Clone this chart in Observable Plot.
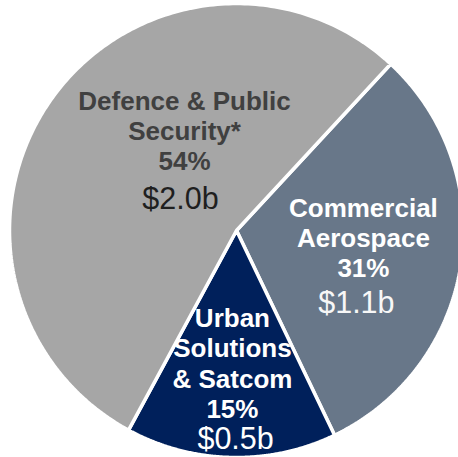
<!DOCTYPE html>
<html>
<head>
<meta charset="utf-8">
<script src="https://cdn.jsdelivr.net/npm/d3@7"></script>
<script src="https://cdn.jsdelivr.net/npm/@observablehq/plot@0.6"></script>
<style>
  html, body { margin: 0; padding: 0; background: #fff; overflow: hidden; }
  #chart svg { display: block; overflow: hidden; }
</style>
</head>
<body>
<div id="chart"></div>
<script>
// ---- data ----
const segments = ["Commercial\nAerospace", "Urban\nSolutions\n& Satcom", "Defence & Public\nSecurity*"];
const shares = [31, 15, 54];
const revenue = ["$1.1b", "$0.5b", "$2.0b"];

// ---- layout / style (not data) ----
const colors = ["#687789", "#00205B", "#A6A6A6"];
const labelColors = ["#ffffff", "#ffffff", "#404040"];
const valueColors = ["#f7f7f7", "#ffffff", "#1f1f1f"];
const startAngleDeg = 42.8;            // first slice boundary, clockwise from 12 o'clock
const labelPos = [[0.559, -0.031], [-0.018, -0.583], [-0.229, 0.4405]]; // unit-circle coords of title block
const valuePos = [[0.528, -0.322], [-0.004, -0.921], [-0.247, 0.137]];

const W = 458, H = 457, cx = 236, cy = 230, R = 227;

// slice polygons from d3.pie angles
const pie = d3.pie().sort(null).value(d => d).startAngle(startAngleDeg * Math.PI / 180).endAngle(startAngleDeg * Math.PI / 180 + 2 * Math.PI);
const arcs = pie(shares);
const poly = [];
arcs.forEach((a, i) => {
  poly.push({seg: i, x: 0, y: 0});
  const n = 200;
  for (let k = 0; k <= n; k++) {
    const t = a.startAngle + (a.endAngle - a.startAngle) * k / n;
    poly.push({seg: i, x: Math.sin(t), y: Math.cos(t)});
  }
  poly.push({seg: i, x: 0, y: 0});
});

const titles = segments.map((s, i) => ({text: s + "\n" + shares[i] + "%", x: labelPos[i][0], y: labelPos[i][1], c: labelColors[i]}));
const values = revenue.map((v, i) => ({text: v, x: valuePos[i][0], y: valuePos[i][1], c: valueColors[i]}));

const chart = Plot.plot({
  width: W, height: H,
  margin: 0,
  x: {domain: [-1, 1], range: [cx - R, cx + R], axis: null},
  y: {domain: [-1, 1], range: [cy + R, cy - R], axis: null},
  style: {fontFamily: "Liberation Sans, Arial, sans-serif", background: "#fff"},
  marks: [
    Plot.line(poly, {x: "x", y: "y", z: "seg", fill: d => colors[d.seg], stroke: "#fff", strokeWidth: 3.5, strokeLinejoin: "miter", curve: "linear"}),
    Plot.text(titles, {x: "x", y: "y", text: "text", fill: "c", fontSize: 26, fontWeight: "bold", lineHeight: 1.16, lineAnchor: "middle", textAnchor: "middle"}),
    Plot.text(values, {x: "x", y: "y", text: "text", fill: "c", fontSize: 30.5, lineAnchor: "middle", textAnchor: "middle"})
  ]
});
document.getElementById("chart").appendChild(chart);
</script>
</body>
</html>
